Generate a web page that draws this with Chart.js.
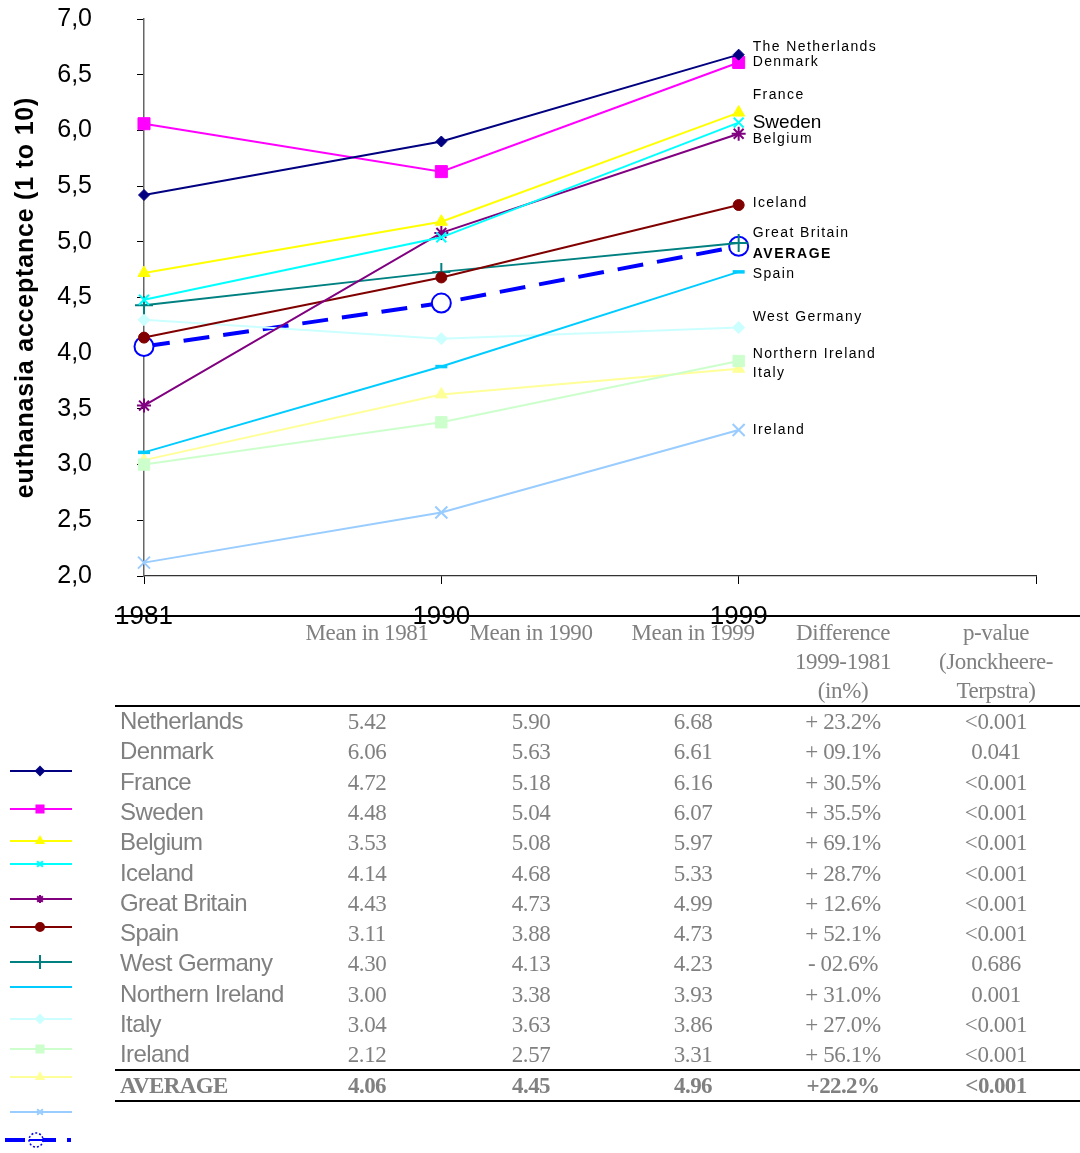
<!DOCTYPE html>
<html>
<head>
<meta charset="utf-8">
<script src="https://cdn.jsdelivr.net/npm/chart.js@4.4.1/dist/chart.umd.min.js"></script>
<style>
  html, body { margin: 0; padding: 0; background: #fff; }
  #wrap { width: 1080px; height: 1153px; position: relative; }
</style>
</head>
<body>
<div id="wrap"><canvas id="c" width="1080" height="1153"></canvas></div>
<script>
// ---- data ----
const years = ['1981', '1990', '1999', ''];
const yTicks = [2, 2.5, 3, 3.5, 4, 4.5, 5, 5.5, 6, 6.5, 7];

const netherlands    = [5.42, 5.90, 6.68];
const denmark        = [6.06, 5.63, 6.61];
const france         = [4.72, 5.18, 6.16];
const sweden         = [4.48, 5.04, 6.07];
const belgium        = [3.53, 5.08, 5.97];
const iceland        = [4.14, 4.68, 5.33];
const greatBritain   = [4.43, 4.73, 4.99];
const spain          = [3.11, 3.88, 4.73];
const westGermany    = [4.30, 4.13, 4.23];
const northernIreland= [3.00, 3.38, 3.93];
const italy          = [3.04, 3.63, 3.86];
const ireland        = [2.12, 2.57, 3.31];
const average        = [4.06, 4.45, 4.96];

const seriesNames = ['The Netherlands', 'Denmark', 'France', 'Sweden', 'Belgium', 'Iceland',
  'Great Britain', 'Spain', 'West Germany', 'Northern Ireland', 'Italy', 'Ireland', 'AVERAGE'];
const seriesValues = [netherlands, denmark, france, sweden, belgium, iceland,
  greatBritain, spain, westGermany, northernIreland, italy, ireland, average];

const tableHeaders = [['Mean in 1981'], ['Mean in 1990'], ['Mean in 1999'],
  ['Difference', '1999-1981', '(in%)'], ['p-value', '(Jonckheere-', 'Terpstra)']];
const tableRows = ['Netherlands', 'Denmark', 'France', 'Sweden', 'Belgium', 'Iceland',
  'Great Britain', 'Spain', 'West Germany', 'Northern Ireland', 'Italy', 'Ireland'];
const differences = ['+ 23.2%', '+ 09.1%', '+ 30.5%', '+ 35.5%', '+ 69.1%', '+ 28.7%',
  '+ 12.6%', '+ 52.1%', '- 02.6%', '+ 31.0%', '+ 27.0%', '+ 56.1%'];
const pValues = ['<0.001', '0.041', '<0.001', '<0.001', '<0.001', '<0.001',
  '<0.001', '<0.001', '0.686', '0.001', '<0.001', '<0.001'];
const averageLabel = 'AVERAGE';
const averageDifference = '+22.2%';
const averagePValue = '<0.001';

// ---- styles ----
const styles = [
  { color: '#000080', point: 'rectRot',  r: 5.5, pw: 1 },
  { color: '#FF00FF', point: 'rect',     r: 8.5, pw: 1 },
  { color: '#FFFF00', point: 'triangle', r: 7,   pw: 1 },
  { color: '#00FFFF', point: 'crossRot', r: 7,   pw: 2 },
  { color: '#800080', point: 'star',     r: 7,   pw: 2 },
  { color: '#800000', point: 'circle',   r: 5.5, pw: 1 },
  { color: '#008080', point: 'cross',    r: 9,   pw: 2 },
  { color: '#00CCFF', point: 'line',     r: 6,   pw: 3.5 },
  { color: '#CCFFFF', point: 'rectRot',  r: 6,   pw: 1 },
  { color: '#CCFFCC', point: 'rect',     r: 8,   pw: 1 },
  { color: '#FFFF99', point: 'triangle', r: 7,   pw: 1 },
  { color: '#99CCFF', point: 'crossRot', r: 8.5, pw: 2 },
  { color: '#0000FF', point: 'circle',   r: 9.5, pw: 2, fill: '#FFFFFF', dash: [26, 14], width: 4 }
];

// end-of-line label offsets from the 1999 point (px)
const endLabelOffsets = [-8, 0, -17, 0, 5, -2, -10, 2, -10, -7, 4, 0, 8];
// left key rows (y, px)
const keyRowsY = [771, 809, 841, 864, 899, 927, 962, 987, 1019, 1049, 1077, 1112, 1140];

const SANS = '"Liberation Sans", Arial, Helvetica, sans-serif';
const SERIF = '"Liberation Serif", "Times New Roman", Times, serif';

const datasets = seriesValues.map((vals, i) => {
  const s = styles[i];
  return {
    label: seriesNames[i],
    data: vals,
    borderColor: s.color,
    backgroundColor: s.color,
    borderWidth: s.width || 2,
    borderDash: s.dash || [],
    pointStyle: s.point,
    pointRadius: s.r,
    pointBorderWidth: s.pw,
    pointBorderColor: s.color,
    pointBackgroundColor: s.fill || s.color,
    tension: 0,
    fill: false,
    clip: false,
    // the average is drawn underneath the country lines
    order: i === 12 ? 100 : i
  };
});

function drawMarker(ctx, style, r, bw, x, y) {
  if (window.Chart && Chart.helpers && Chart.helpers.drawPoint) {
    Chart.helpers.drawPoint(ctx, { pointStyle: style, radius: r, borderWidth: bw, rotation: 0 }, x, y);
  } else {
    ctx.beginPath();
    ctx.arc(x, y, r, 0, Math.PI * 2);
    ctx.fill();
    ctx.stroke();
  }
}

const decorations = {
  id: 'decorations',
  afterDatasetsDraw(chart) {
    const ctx = chart.ctx;
    const yScale = chart.scales.y;
    // axis title
    ctx.save();
    ctx.translate(26, (yScale.top + yScale.bottom) / 2);
    ctx.rotate(-Math.PI / 2);
    ctx.font = 'bold 25px ' + SANS;
    ctx.letterSpacing = '0.8px';
    ctx.fillStyle = '#000';
    ctx.textAlign = 'center';
    ctx.textBaseline = 'middle';
    ctx.fillText('euthanasia acceptance (1 to 10)', 0, 0);
    ctx.restore();

    // labels at line ends
    const order = [0, 1, 2, 4, 3, 5, 6, 12, 7, 8, 9, 10, 11];
    order.forEach(i => {
      const pt = chart.getDatasetMeta(i).data[2];
      const x = pt.x + 14;
      const y = pt.y + endLabelOffsets[i];
      ctx.save();
      ctx.textAlign = 'left';
      ctx.textBaseline = 'middle';
      ctx.fillStyle = '#000';
      if (i === 3) {
        ctx.font = '19px ' + SANS;
        ctx.letterSpacing = '0px';
        const w = ctx.measureText(seriesNames[i]).width;
        ctx.fillStyle = '#fff';
        ctx.fillRect(x - 1, y - 9, w + 2, 18);
        ctx.fillStyle = '#000';
      } else if (i === 12) {
        ctx.font = 'bold 14px ' + SANS;
        ctx.letterSpacing = '1.6px';
      } else {
        ctx.font = '14px ' + SANS;
        ctx.letterSpacing = '1.4px';
      }
      ctx.fillText(seriesNames[i], x, y);
      ctx.restore();
    });
  },
  afterDraw(chart) {
    const ctx = chart.ctx;
    ctx.save();
    // table rules
    ctx.strokeStyle = '#000';
    ctx.lineWidth = 2;
    [616, 706, 1070, 1101].forEach(y => {
      ctx.beginPath();
      ctx.moveTo(115, y);
      ctx.lineTo(1080, y);
      ctx.stroke();
    });

    const colX = [367, 531, 693, 843, 996];
    ctx.fillStyle = '#808080';
    ctx.textBaseline = 'alphabetic';
    ctx.font = '23px ' + SERIF;
    ctx.letterSpacing = '-0.4px';
    ctx.textAlign = 'center';
    tableHeaders.forEach((lines, c) => {
      lines.forEach((t, k) => ctx.fillText(t, colX[c], 640 + k * 29));
    });

    const rowY = r => 729 + r * 30.3;
    tableRows.forEach((name, r) => {
      const y = rowY(r);
      ctx.font = '24px ' + SANS;
      ctx.letterSpacing = '-0.6px';
      ctx.textAlign = 'left';
      ctx.fillText(name, 120, y);
      ctx.letterSpacing = '-0.4px';
      ctx.font = '23px ' + SERIF;
      ctx.textAlign = 'center';
      const vals = seriesValues[r];
      for (let k = 0; k < 3; k++) ctx.fillText(vals[k].toFixed(2), colX[k], y);
      ctx.fillText(differences[r], colX[3], y);
      ctx.fillText(pValues[r], colX[4], y);
    });
    // average row
    const ya = rowY(12);
    ctx.font = 'bold 23px ' + SERIF;
    ctx.letterSpacing = '-0.6px';
    ctx.textAlign = 'left';
    ctx.fillText(averageLabel, 120, ya);
    ctx.textAlign = 'center';
    for (let k = 0; k < 3; k++) ctx.fillText(average[k].toFixed(2), colX[k], ya);
    ctx.fillText(averageDifference, colX[3], ya);
    ctx.fillText(averagePValue, colX[4], ya);
    ctx.restore();

    // key on the left
    seriesValues.forEach((v, i) => {
      const s = styles[i];
      const y = keyRowsY[i];
      ctx.save();
      ctx.strokeStyle = s.color;
      ctx.fillStyle = s.fill || s.color;
      if (i === 12) {
        ctx.lineWidth = 4;
        ctx.setLineDash([20, 11]);
        ctx.beginPath();
        ctx.moveTo(5, y);
        ctx.lineTo(71, y);
        ctx.stroke();
        ctx.setLineDash([2, 2]);
        ctx.lineWidth = 1.5;
        ctx.fillStyle = '#fff';
        ctx.beginPath();
        ctx.arc(36, y, 7, 0, Math.PI * 2);
        ctx.fill();
        ctx.stroke();
        ctx.setLineDash([]);
        ctx.beginPath();
        ctx.moveTo(29, y);
        ctx.lineTo(43, y);
        ctx.lineWidth = 2;
        ctx.stroke();
      } else {
        ctx.lineWidth = 2;
        ctx.beginPath();
        ctx.moveTo(10, y);
        ctx.lineTo(72, y);
        ctx.stroke();
        const kr = s.point === 'cross' ? 7 : (s.point === 'rect' ? 5 : 4);
        drawMarker(ctx, s.point, kr, s.point === 'line' ? 3 : 1.5, 40, y);
      }
      ctx.restore();
    });
  }
};

new Chart(document.getElementById('c'), {
  type: 'line',
  data: { labels: years, datasets },
  options: {
    responsive: false,
    animation: false,
    events: [],
    layout: { autoPadding: false, padding: { top: 19, right: 44, left: 0, bottom: 517 } },
    plugins: { legend: { display: false }, tooltip: { enabled: false } },
    scales: {
      x: {
        type: 'category',
        offset: false,
        grid: { drawOnChartArea: false, drawTicks: true, tickLength: 8, color: '#000', lineWidth: 1 },
        border: { display: true, color: '#333', width: 1.2 },
        ticks: { color: '#000', font: { family: SANS, size: 26 }, padding: 17, maxRotation: 0, autoSkip: false },
        afterFit(scale) {
          scale.height = 60;
          scale.paddingLeft = 0;
          scale.paddingRight = 0;
        }
      },
      y: {
        min: 2,
        max: 7,
        afterBuildTicks(scale) { scale.ticks = yTicks.map(v => ({ value: v })); },
        grid: { drawOnChartArea: false, drawTicks: true, tickLength: 7, color: '#000', lineWidth: 1 },
        border: { display: true, color: '#666', width: 1.5 },
        ticks: {
          color: '#000',
          font: { family: SANS, size: 25 },
          padding: 45,
          callback: v => Number(v).toFixed(1).replace('.', ',')
        },
        afterFit(scale) {
          scale.width = 144;
          scale.paddingTop = 0;
          scale.paddingBottom = 0;
        }
      }
    }
  },
  plugins: [decorations]
});
</script>
</body>
</html>
